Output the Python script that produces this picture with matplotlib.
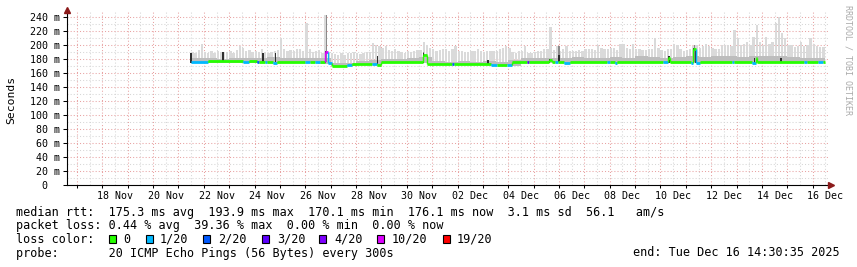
import matplotlib
matplotlib.use("Agg")
import matplotlib.pyplot as plt
import matplotlib.dates as mdates
from matplotlib.ticker import MultipleLocator, FuncFormatter, NullFormatter
from matplotlib.patches import Rectangle
import numpy as np
from datetime import datetime, timedelta

# 30 day window ending at the "end:" stamp
graph_end = datetime(2025, 12, 16, 14, 30, 35)
graph_start = graph_end - timedelta(days=30)
data_start = datetime(2025, 11, 21, 12, 0)
data_hours = 600

# highest ping per 3 h slot (ms), one row = one day from data_start
ping_max = [
    190, 188, 193, 202, 190, 189, 191, 189,
    192, 190, 190, 190, 192, 189, 193, 198,
    196, 192, 193, 190, 192, 190, 195, 190,
    189, 190, 191, 193, 210, 195, 191, 193,
    192, 194, 194, 191, 231, 195, 190, 192,
    193, 189, 243, 190, 188, 187, 186, 188,
    186, 188, 189, 190, 188, 187, 189, 190,
    190, 203, 200, 198, 196, 198, 193, 191,
    195, 191, 190, 189, 192, 190, 191, 193,
    193, 205, 200, 196, 194, 191, 193, 195,
    195, 192, 194, 198, 191, 192, 190, 190,
    191, 192, 195, 191, 190, 192, 191, 191,
    191, 195, 196, 198, 196, 190, 189, 191,
    192, 198, 188, 188, 190, 191, 192, 195,
    195, 226, 193, 198, 192, 194, 198, 192,
    192, 191, 193, 192, 194, 194, 195, 193,
    200, 196, 194, 194, 196, 196, 193, 202,
    202, 196, 195, 202, 194, 194, 193, 193,
    195, 195, 210, 196, 193, 192, 194, 194,
    202, 200, 194, 192, 193, 194, 198, 200,
    196, 198, 202, 199, 196, 194, 195, 200,
    200, 200, 198, 221, 210, 200, 202, 205,
    200, 212, 228, 205, 200, 212, 202, 205,
    232, 240, 217, 210, 200, 200, 197, 198,
    205, 199, 200, 210, 202, 198, 197, 197,
]

# 12 h slots: lowest ping and top of the dense smoke (ms)
ping_min = [
    174.5, 174.5, 174.5, 174.5, 174.5, 174.5, 174.5, 174.5, 174.5, 174.5,
    173.5, 169.5, 169.5, 171.5, 171, 174.5, 174.5, 174.5, 174, 171,
    171, 171, 171, 171, 171, 170.5, 174.5, 174.5, 174.5, 174.5,
    174.5, 174.5, 174.5, 174.5, 174.5, 174.5, 174.5, 174.5, 174.5, 174.5,
    174.5, 174.5, 174.5, 174.5, 174.5, 174.5, 174.5, 174.5, 174.5, 174.5,
]
smoke_dense = [
    181, 182, 180, 181, 182, 181, 183, 181, 182, 181,
    182, 175, 175, 177, 178, 180, 180, 181, 183, 177,
    176, 177, 176, 177, 176, 178, 181, 182, 181, 182,
    183, 181, 182, 183, 182, 184, 183, 182, 183, 184,
    183, 184, 185, 183, 184, 185, 184, 183, 182, 182,
]

# median rtt change points: hour from data_start, value (ms), lost pings of 20
med_hour = [0, 16, 49, 55, 62, 64, 70, 72, 77, 81, 108, 112, 117, 122, 127, 129,
            133, 147, 152, 171, 176, 180, 219, 223, 247, 249, 284, 289, 299, 304,
            318, 320, 339, 341, 344, 347, 353, 358, 393, 396, 401, 403, 446, 451,
            453, 473, 475, 478, 481, 512, 514, 531, 534, 535, 580, 583, 593, 598]
med_rtt = [176, 176.5, 176, 176.5, 175.5, 175.5, 175.5, 175.5, 175, 175.5, 175.5, 175.5,
           175.5, 175.5, 190, 174, 170.5, 171, 173, 173, 172, 176, 186, 172.5, 172.5,
           172.5, 171.5, 172, 171, 176, 176, 176, 178, 176, 175.5, 176, 175, 176,
           175.5, 176, 175, 176, 175.5, 182, 176, 175, 194, 174, 176, 175.5, 176,
           175, 181, 176, 175.5, 176, 175.5, 176.1]
med_loss = [1, 0, 1, 0, 2, 0, 1, 0, 1, 0, 1, 0, 1, 0, 10, 1,
            0, 1, 0, 1, 0, 0, 0, 0, 2, 0, 1, 0, 1, 0,
            3, 0, 0, 0, 1, 0, 1, 0, 1, 0, 1, 0, 1, 0,
            0, 1, 0, 1, 0, 1, 0, 1, 0, 0, 1, 0, 1, 0]

# grey smoke streaks: hour, low, high (ms)
streak_hour = [128, 220, 348, 476]
streak_lo = [176, 176, 176, 176]
streak_hi = [243, 190, 198, 200]

# near black smoke streaks: hour, low, high (ms)
dark_hour = [0, 30, 68, 80, 127, 176, 220, 281, 339, 348, 452, 475, 477, 533, 558]
dark_lo = [175, 176, 175, 176, 175, 173, 175, 171, 175, 176, 175, 175, 175, 174, 176]
dark_hi = [188, 190, 188, 188, 192, 185, 188, 178, 180, 186, 184, 196, 194, 181, 182]

loss_levels = [0, 1, 2, 3, 4, 10, 19]
loss_labels = ['0', '1/20', '2/20', '3/20', '4/20', '10/20', '19/20']
loss_colors = ['#26ff00', '#00b8ff', '#0059ff', '#5e00ff', '#7e00ff', '#dd00ff', '#ff0000']

stat_rtt = 'median rtt:  175.3 ms avg  193.9 ms max  170.1 ms min  176.1 ms now  3.1 ms sd  56.1   am/s'
stat_loss = 'packet loss: 0.44 % avg  39.36 % max  0.00 % min  0.00 % now'
probe_text = 'probe:       20 ICMP Echo Pings (56 Bytes) every 300s'
end_text = 'end: Tue Dec 16 14:30:35 2025'

plt.rcParams['font.family'] = 'DejaVu Sans Mono'

W, H = 857, 267
fig = plt.figure(figsize=(W / 100, H / 100), dpi=100)
fig.patch.set_facecolor('white')
ax = fig.add_axes([67 / W, (H - 185) / H, 761 / W, 173 / H])

t0 = mdates.date2num(data_start)


def hnum(h):
    return t0 + np.asarray(h, dtype=float) / 24.0


color_of = dict(zip(loss_levels, loss_colors))

# smoke: light spikes with small gaps, dense band near the median, streaks
pmax = np.array(ping_max, dtype=float)
pmin = np.array(ping_min, dtype=float)
dense = np.array(smoke_dense, dtype=float)
lo3 = np.repeat(pmin, 4)
ax.bar(hnum(np.arange(len(pmax)) * 3), pmax - lo3, bottom=lo3, width=2.2 / 24,
       align='edge', color='#dadada', lw=0, zorder=2)
ax.bar(hnum(np.arange(len(pmin)) * 12), dense - pmin, bottom=pmin, width=0.5,
       align='edge', color='#bdbdbd', lw=0, zorder=2)
ax.bar(hnum(streak_hour), np.array(streak_hi) - np.array(streak_lo), bottom=streak_lo,
       width=1.3 / 24, color='#8a8a8a', lw=0, zorder=2)
ax.bar(hnum(dark_hour), np.array(dark_hi) - np.array(dark_lo), bottom=dark_lo,
       width=1.3 / 24, color='#303030', lw=0, zorder=2)

# median line coloured by loss
ends = med_hour[1:] + [data_hours]
for i, (h0, h1) in enumerate(zip(med_hour, ends)):
    c = color_of[med_loss[i]]
    ax.hlines(med_rtt[i], hnum(h0), hnum(h1), colors=c, lw=2.0, zorder=3)
    if i > 0 and med_rtt[i] != med_rtt[i - 1]:
        ax.vlines(hnum(h0), med_rtt[i - 1], med_rtt[i], colors=c, lw=1.0, zorder=3)

# axes and grid
ax.set_xlim(mdates.date2num(graph_start), mdates.date2num(graph_end))
ax.set_ylim(0, 173 / 0.7)
ax.yaxis.set_major_locator(MultipleLocator(20))
ax.yaxis.set_minor_locator(MultipleLocator(10))
ax.yaxis.set_major_formatter(FuncFormatter(lambda v, p: f'{v:.0f} m' if v else '0  '))
ax.xaxis.set_major_locator(mdates.DayLocator())
ax.xaxis.set_minor_locator(mdates.HourLocator(byhour=[12]))
ax.xaxis.set_major_formatter(NullFormatter())


def day_label(v, p):
    d = mdates.num2date(v)
    return d.strftime('%d %b') if d.day % 2 == 0 else ''


ax.xaxis.set_minor_formatter(FuncFormatter(day_label))
ax.set_axisbelow(True)
ax.grid(which='major', color='#e8a2a2', ls=(0, (1, 2)), lw=0.75)
ax.grid(which='minor', color='#d6d6d6', ls=(0, (1, 2)), lw=0.75)
ax.tick_params(axis='y', which='major', length=3, width=0.75, pad=1.8, labelsize=7.2)
ax.tick_params(axis='y', which='minor', length=0)
ax.tick_params(axis='x', which='major', length=2, width=0.75)
ax.tick_params(axis='x', which='minor', length=0, pad=4, labelsize=7.2)
for s in ('top', 'right'):
    ax.spines[s].set_visible(False)
for s in ('left', 'bottom'):
    ax.spines[s].set_linewidth(0.8)

ax.plot([1.0033], [0], marker='>', ms=4, color='#8b1a1a', transform=ax.transAxes,
        clip_on=False, zorder=5)
ax.plot([0], [1.012], marker='^', ms=4, color='#8b1a1a', transform=ax.transAxes,
        clip_on=False, zorder=5)

fig.text(11 / W, 1 - 100 / H, 'Seconds', rotation=90, ha='center', va='center', fontsize=8.2)
fig.text(848 / W, 1 - 60 / H, 'RRDTOOL / TOBI OETIKER', rotation=270, ha='center',
         va='center', fontsize=6, color='#aaaaaa')

# legend block
fs = 8.5
fig.text(16 / W, 1 - 216 / H, stat_rtt, fontsize=fs, va='baseline')
fig.text(16 / W, 1 - 229.5 / H, stat_loss, fontsize=fs, va='baseline')
fig.text(16 / W, 1 - 243 / H, 'loss color:', fontsize=fs, va='baseline')
fig.text(16 / W, 1 - 256.5 / H, probe_text, fontsize=fs, va='baseline')
fig.text(840 / W, 1 - 256.5 / H, end_text, fontsize=fs, va='baseline', ha='right')

box_x = [109, 146, 203, 262, 319, 377, 443]
text_x = [123, 160, 218, 277, 334, 392, 457]
for bx, tx, c, lab in zip(box_x, text_x, loss_colors, loss_labels):
    fig.patches.append(Rectangle((bx / W, 1 - 243 / H), 7 / W, 8 / H, transform=fig.transFigure,
                                 facecolor=c, edgecolor='black', lw=0.8))
    fig.text(tx / W, 1 - 243 / H, lab, fontsize=fs, va='baseline')

fig.savefig('out.png', dpi=100)
